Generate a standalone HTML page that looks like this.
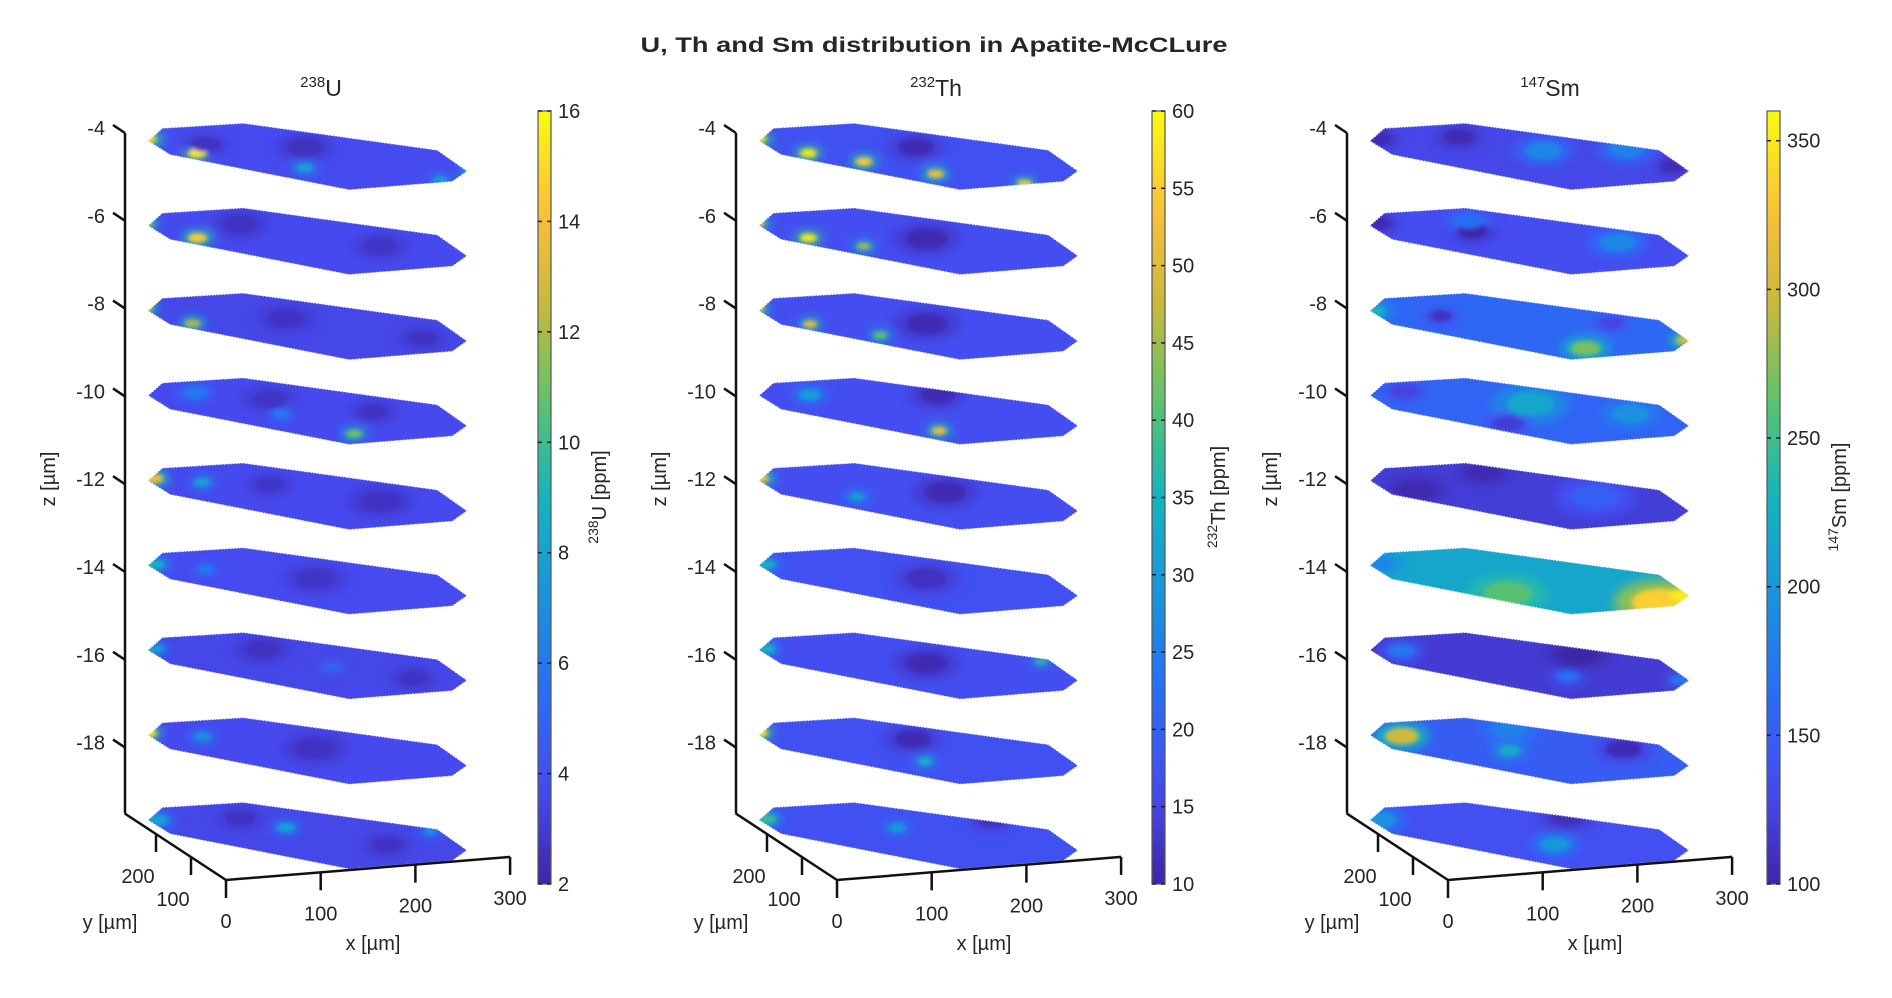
<!DOCTYPE html>
<html><head><meta charset="utf-8"><title>U, Th and Sm distribution in Apatite-McCLure</title>
<style>
html,body{margin:0;padding:0;background:#fff;}
svg{display:block;font-family:"Liberation Sans",Arial,sans-serif;}
</style></head>
<body>
<svg id="chart" width="1892" height="998" viewBox="0 0 1892 998" xmlns="http://www.w3.org/2000/svg">
<text x="934" y="52" text-anchor="middle" font-size="21" font-weight="bold" fill="#262626" textLength="587" lengthAdjust="spacingAndGlyphs">U, Th and Sm distribution in Apatite-McCLure</text>
<defs>
<filter id="blur" x="-50%" y="-50%" width="200%" height="200%"><feGaussianBlur stdDeviation="5"/></filter>
<filter id="blur2" x="-50%" y="-50%" width="200%" height="200%"><feGaussianBlur stdDeviation="2.5"/></filter>
</defs>
</svg>
<script>
// ---- data ----
const sliceZ = [-4, -5.93, -7.87, -9.80, -11.74, -13.67, -15.60, -17.54, -19.47];
const zTicks = [-4, -6, -8, -10, -12, -14, -16, -18];
const xTicks = [0, 100, 200, 300];
const yTicks = [100, 200];
const polyX = [11, 43, 126, 270, 268, 239, 130, 12];
const polyY = [253, 298, 292, 127, 36, 0, 0, 192];

const uMeans = [3.7, 3.6, 3.5, 3.6, 3.6, 3.7, 3.5, 3.6, 3.5];
const thMeans = [17, 16.5, 16.5, 16.5, 16.5, 17, 16.5, 17, 17];
const smMeans = [128, 132, 158, 155, 120, 215, 118, 148, 135];

const uTicks = [2, 4, 6, 8, 10, 12, 14, 16];
const thTicks = [10, 15, 20, 25, 30, 35, 40, 45, 50, 55, 60];
const smTicks = [100, 150, 200, 250, 300, 350];

// hotspots: [slice, x, y, value, radius]
const uHot = [
[0,12,262,15,18],[0,40,190,15.5,16],[0,120,100,8,14],[0,230,10,8,12],[0,270,40,7,12],[0,150,180,2.5,30],[0,60,220,2.6,25],
[1,12,262,12,14],[1,40,190,14.5,16],[1,100,230,2.6,30],[1,200,100,2.7,30],
[2,12,262,12,14],[2,35,190,12,14],[2,130,180,2.6,30],[2,230,60,2.6,25],
[3,60,250,6,20],[3,150,40,11,14],[3,120,200,2.7,30],[3,200,120,2.6,25],[3,110,140,6,15],
[4,20,260,14,16],[4,60,230,8,14],[4,200,100,2.6,35],[4,120,200,2.7,25],
[5,20,255,9,15],[5,150,150,2.7,35],[5,60,220,6,14],
[6,20,255,8,14],[6,120,220,2.6,30],[6,220,60,2.6,25],[6,160,130,5,15],
[7,15,262,15.5,14],[7,60,230,7,15],[7,150,150,2.6,35],
[8,20,250,8,18],[8,130,180,8,15],[8,100,230,2.6,25],[8,200,80,2.6,25],[8,260,120,7,12]];
const thHot = [
[0,12,262,58,16],[0,40,190,58,14],[0,80,140,55,14],[0,130,70,52,14],[0,200,5,55,12],[0,150,180,11,30],
[1,12,262,52,14],[1,40,190,58,14],[1,80,140,45,12],[1,150,150,11,35],
[2,12,262,50,14],[2,40,185,52,12],[2,90,120,42,12],[2,150,150,11,35],
[3,60,240,30,18],[3,130,60,52,13],[3,180,200,11,30],
[4,15,262,52,16],[4,80,160,30,14],[4,170,150,11,35],
[5,20,255,35,14],[5,150,150,12,35],
[6,20,255,35,14],[6,260,120,38,10],[6,150,150,11,35],
[7,15,262,58,14],[7,130,100,35,12],[7,150,190,11,30],
[8,20,255,38,16],[8,130,180,30,14],[8,230,180,12,25]];
const smHot = [
[0,20,260,105,25],[0,160,160,185,30],[0,240,140,180,30],[0,260,60,105,20],[0,100,240,105,25],
[1,20,260,105,25],[1,100,200,100,25],[1,220,110,185,30],[1,110,240,165,25],
[2,15,250,230,18],[2,160,40,270,25],[2,265,40,300,16],[2,70,210,110,18],[2,220,130,125,20],
[3,150,170,215,40],[3,230,100,195,30],[3,50,260,125,25],[3,100,100,120,25],
[4,40,200,105,35],[4,200,120,150,40],[4,130,250,105,30],
[5,20,260,185,30],[5,100,100,260,40],[5,230,20,335,45],[5,260,40,350,20],
[6,40,240,170,22],[6,160,90,165,18],[6,260,40,175,15],[6,200,170,100,35],
[7,40,240,300,28],[7,120,150,220,18],[7,150,230,180,30],[7,230,120,105,30],
[8,20,250,195,28],[8,150,100,200,25],[8,200,200,110,30]];

// ---- helpers ----
const NS = "http://www.w3.org/2000/svg";
const svg = document.getElementById('chart');
const INK = "#262626";
const parula = [[0,[62,38,168]],[0.12,[70,75,240]],[0.25,[40,110,245]],[0.38,[25,150,220]],[0.5,[20,180,190]],[0.62,[90,195,110]],[0.75,[200,185,60]],[0.87,[252,190,60]],[1,[249,251,14]]];
function cmap(t){
  t = Math.max(0, Math.min(1, t));
  for (let i = 1; i < parula.length; i++) {
    if (t <= parula[i][0]) {
      const a = parula[i-1], b = parula[i], f = (t - a[0]) / (b[0] - a[0]);
      const c = a[1].map((v, k) => Math.round(v + (b[1][k] - v) * f));
      return `rgb(${c[0]},${c[1]},${c[2]})`;
    }
  }
  return 'rgb(249,251,14)';
}
function el(tag, attrs, parent){
  const e = document.createElementNS(NS, tag);
  for (const k in attrs) e.setAttribute(k, attrs[k]);
  (parent || svg).appendChild(e);
  return e;
}
function zScale(z){ return 133 + (-4 - z) * 43.9; }
function proj(ax, x, y, z){
  return [ax + 101 + x * 0.947 - y * 0.35, zScale(z) + 67 - x * 0.077 - y * 0.23];
}

const panels = [
  {ax:125, cbX:538, label:'U', iso:'238', vmin:2, vmax:16, ticks:uTicks, means:uMeans, hot:uHot, titleX:321, cbLabX:606},
  {ax:736, cbX:1152, label:'Th', iso:'232', vmin:10, vmax:60, ticks:thTicks, means:thMeans, hot:thHot, titleX:936, cbLabX:1225},
  {ax:1347, cbX:1767, label:'Sm', iso:'147', vmin:100, vmax:360, ticks:smTicks, means:smMeans, hot:smHot, titleX:1550, cbLabX:1846}
];
const zBase = -19.49;
const cbTop = 111, cbBot = 884;

panels.forEach((p, pi) => {
  const g = el('g', {});
  
  
  const norm = v => (v - p.vmin) / (p.vmax - p.vmin);

  const t = el('text', {x:p.titleX, y:96, 'text-anchor':'middle', 'font-size':23, fill:INK}, g);
  
  
  const s1 = el('tspan', {'font-size':15, dy:-9}, t); s1.textContent = p.iso;
  const s2 = el('tspan', {dy:9}, t); s2.textContent = p.label;

  sliceZ.forEach((z, si) => {
    const pts = polyX.map((x, k) => proj(p.ax, x, polyY[k], z).join(',')).join(' ');
    const cid = 'clip' + pi + '_' + si;
    const cp = el('clipPath', {id:cid}, g);
    el('polygon', {points:pts}, cp);
    const sg = el('g', {'clip-path':'url(#' + cid + ')'}, g);
    
    
    el('polygon', {points:pts, fill:cmap(norm(p.means[si]))}, sg);
    const hs = p.hot.filter(h => h[0] === si);
    const bg = el('g', {filter:'url(#blur)'}, sg);
    hs.forEach(h => {
      const c = proj(p.ax, h[1], h[2], z);
      const col = cmap(norm((h[3] + p.means[si]) / 2));
      const e = el('ellipse', {cx:c[0], cy:c[1], rx:h[4] * 1.0, ry:h[4] * 0.5, fill:col}, bg);
      
      
    });
    const cg = el('g', {filter:'url(#blur2)'}, sg);
    hs.forEach(h => {
      const c = proj(p.ax, h[1], h[2], z);
      const e = el('ellipse', {cx:c[0], cy:c[1], rx:h[4] * 0.6, ry:h[4] * 0.3, fill:cmap(norm(h[3]))}, cg);
      
      
    });
    el('polygon', {points:pts, fill:'none', stroke:'#ffffff', 'stroke-width':1.2, 'stroke-dasharray':'1.5 1.5'}, sg);
  });

  const top = [p.ax, zScale(-4)], bot = [p.ax, zScale(zBase)];
  const za = el('line', {x1:top[0], y1:top[1], x2:bot[0], y2:bot[1], stroke:'#111', 'stroke-width':2.5}, g);
  
  
  zTicks.forEach(v => {
    const y = zScale(v);
    el('line', {x1:p.ax, y1:y, x2:p.ax - 12, y2:y - 8, stroke:'#111', 'stroke-width':2.5}, g);
    const tl = el('text', {x:p.ax - 20, y:y + 2, 'text-anchor':'end', 'font-size':20, fill:INK}, g);
    
    
    tl.textContent = v;
  });
  const zl = el('text', {x:0, y:0, transform:`translate(${p.ax - 70},${479}) rotate(-90)`, 'text-anchor':'middle', 'font-size':20, fill:INK}, g);
  
  
  zl.textContent = 'z [µm]';

  const o = proj(p.ax, 0, 0, zBase), yEnd = proj(p.ax, 0, 290, zBase), xEnd = proj(p.ax, 300, 0, zBase);
  const ya = el('polyline', {points:[yEnd, o, xEnd].map(q => q.join(',')).join(' '), fill:'none', stroke:'#111', 'stroke-width':2.5}, g);
  
  
  xTicks.forEach(v => {
    const q = proj(p.ax, v, 0, zBase);
    el('line', {x1:q[0], y1:q[1], x2:q[0], y2:q[1] + 18, stroke:'#111', 'stroke-width':2.5}, g);
    const tl = el('text', {x:q[0], y:q[1] + 48, 'text-anchor':'middle', 'font-size':20, fill:INK}, g);
    
    
    tl.textContent = v;
  });
  yTicks.forEach(v => {
    const q = proj(p.ax, 0, v, zBase);
    el('line', {x1:q[0], y1:q[1], x2:q[0], y2:q[1] + 18, stroke:'#111', 'stroke-width':2.5}, g);
    const tl = el('text', {x:q[0] - 18, y:q[1] + 49, 'text-anchor':'middle', 'font-size':20, fill:INK}, g);
    
    
    tl.textContent = v;
  });
  const xl = el('text', {x:p.ax + 248, y:950, 'text-anchor':'middle', 'font-size':20, fill:INK}, g);
  
  
  xl.textContent = 'x [µm]';
  const yl = el('text', {x:p.ax - 15, y:929, 'text-anchor':'middle', 'font-size':20, fill:INK}, g);
  
  
  yl.textContent = 'y [µm]';

  const gid = 'cbg' + pi;
  const lg = el('linearGradient', {id:gid, x1:0, y1:1, x2:0, y2:0}, g);
  for (let i = 0; i <= 20; i++) el('stop', {offset:i / 20, 'stop-color':cmap(i / 20)}, lg);
  const cb = el('rect', {x:p.cbX, y:cbTop, width:13, height:cbBot - cbTop, fill:'url(#' + gid + ')', stroke:'#555', 'stroke-width':1.2}, g);
  
  
  const cbY = v => cbBot - (v - p.vmin) / (p.vmax - p.vmin) * (cbBot - cbTop);
  p.ticks.forEach(v => {
    const y = cbY(v);
    el('line', {x1:p.cbX, y1:y, x2:p.cbX + 4, y2:y, stroke:'#222', 'stroke-width':1.5}, g);
    el('line', {x1:p.cbX + 9, y1:y, x2:p.cbX + 13, y2:y, stroke:'#222', 'stroke-width':1.5}, g);
    const tl = el('text', {x:p.cbX + 20, y:y + 7, 'font-size':20, fill:INK}, g);
    
    
    tl.textContent = v;
  });
  const cl = el('text', {x:0, y:0, transform:`translate(${p.cbLabX},${497}) rotate(-90)`, 'text-anchor':'middle', 'font-size':20, fill:INK}, g);
  
  
  const c1 = el('tspan', {'font-size':14, dy:-8}, cl); c1.textContent = p.iso;
  const c2 = el('tspan', {dy:8}, cl); c2.textContent = p.label + ' [ppm]';
});
</script>
</body></html>
